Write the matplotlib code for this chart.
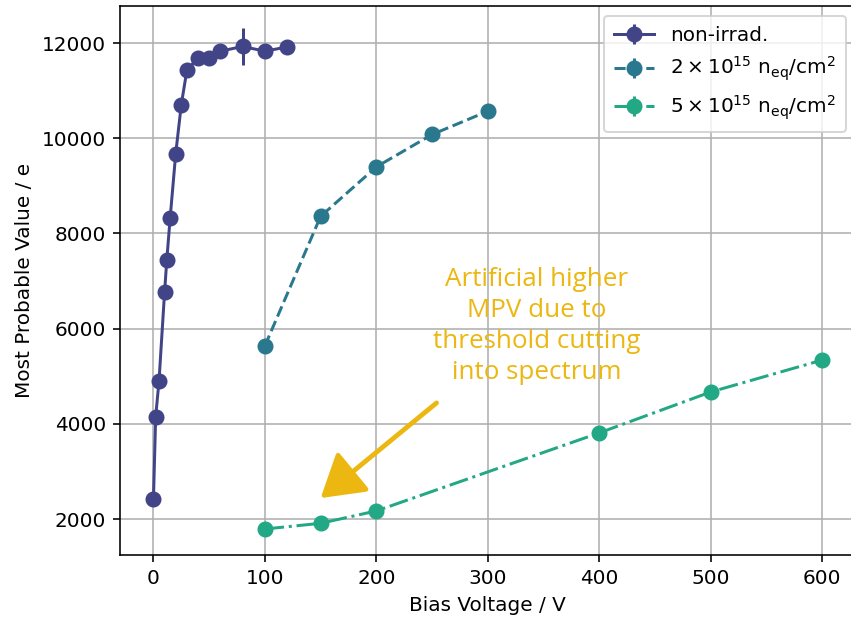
import matplotlib
matplotlib.use("Agg")
import matplotlib.pyplot as plt

# Data
v_nonirr = [0, 2, 5, 10, 12, 15, 20, 25, 30, 40, 50, 60, 80, 100, 120]
mpv_nonirr = [2410, 4150, 4900, 6770, 7450, 8330, 9680, 10710, 11430, 11690, 11690, 11830, 11930, 11830, 11920]
err_nonirr = [40, 40, 40, 40, 40, 40, 50, 50, 60, 80, 80, 80, 385, 80, 60]

v_2e15 = [100, 150, 200, 250, 300]
mpv_2e15 = [5640, 8360, 9400, 10080, 10570]
err_2e15 = [40, 60, 60, 130, 60]

v_5e15 = [100, 150, 200, 400, 500, 600]
mpv_5e15 = [1790, 1910, 2170, 3810, 4670, 5340]
err_5e15 = [30, 30, 30, 30, 40, 40]

labels = ["non-irrad.",
          r"$2\times10^{15}\ \mathrm{n_{eq}/cm^2}$",
          r"$5\times10^{15}\ \mathrm{n_{eq}/cm^2}$"]
colors = ["#414487", "#2a788e", "#22a884"]
styles = ["-", "--", "-."]

dpi = 144
fig = plt.figure(figsize=(851 / dpi, 617 / dpi), dpi=dpi)
ax = fig.add_axes([120 / 851, 62.3 / 617, 735.7 / 851, 548.7 / 617])

for x, y, e, lab, c, ls in zip([v_nonirr, v_2e15, v_5e15],
                               [mpv_nonirr, mpv_2e15, mpv_5e15],
                               [err_nonirr, err_2e15, err_5e15],
                               labels, colors, styles):
    ax.errorbar(x, y, yerr=e, fmt="o", ls=ls, color=c, label=lab,
                markersize=7, linewidth=1.5, elinewidth=1.5)

ax.set_xlim(-30, 630)
ax.set_ylim(1250, 12780)
ax.set_xticks([0, 100, 200, 300, 400, 500, 600])
ax.set_yticks([2000, 4000, 6000, 8000, 10000, 12000])
ax.grid(True, color="#b0b0b0", linewidth=0.8)
ax.set_axisbelow(True)
ax.set_xlabel("Bias Voltage / V")
ax.set_ylabel("Most Probable Value / e")
ax.legend(loc="upper right", borderpad=0.5)

ann_color = "#EBB710"
ax.text(344, 6060, "Artificial higher\nMPV due to\nthreshold cutting\ninto spectrum",
        ha="center", va="center", color=ann_color, fontsize=13,
        family="Open Sans", linespacing=1.32)
ax.annotate("", xy=(150, 2440), xytext=(254, 4440),
            arrowprops=dict(arrowstyle="-|>,head_width=0.55,head_length=0.9",
                            color=ann_color, lw=2.4, mutation_scale=20,
                            shrinkA=0, shrinkB=0))

fig.savefig("out.png", dpi=dpi)
